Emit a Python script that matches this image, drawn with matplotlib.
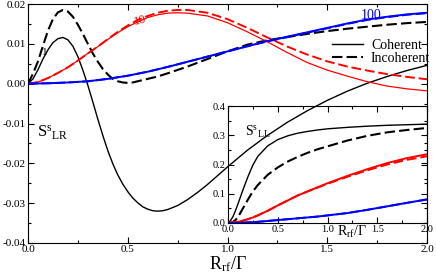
import numpy as np
import matplotlib
matplotlib.use("Agg")
import matplotlib.pyplot as plt
from matplotlib.ticker import MultipleLocator, FormatStrFormatter

plt.rcParams['font.family'] = ['Liberation Serif', 'DejaVu Serif']
plt.rcParams['mathtext.fontset'] = 'custom'
plt.rcParams['mathtext.rm'] = 'Liberation Serif'
plt.rcParams['mathtext.it'] = 'Liberation Serif:italic'
plt.rcParams['axes.unicode_minus'] = False

# ---- main panel: S^s_LR ----
x_coh1 = [0, 0.025, 0.05, 0.075, 0.1, 0.125, 0.15, 0.175, 0.2, 0.225, 0.25, 0.275,
          0.3, 0.325, 0.35, 0.375, 0.4, 0.425, 0.45, 0.475, 0.5, 0.525, 0.55, 0.575,
          0.6, 0.625, 0.65, 0.675, 0.7, 0.75, 0.8, 0.85, 0.9, 0.95, 1.0,
          1.1, 1.2, 1.3, 1.4, 1.5, 1.6, 1.7, 1.8, 1.9, 2.0]
coh_1 = [0, 0.0012, 0.0035, 0.0062, 0.0085, 0.0103, 0.0113, 0.0116, 0.0110, 0.0094,
         0.0068, 0.0034, -0.0004, -0.0046, -0.0089, -0.0130, -0.0168, -0.0201,
         -0.0229, -0.0252, -0.0271, -0.0287, -0.0299, -0.0309, -0.0315, -0.0319,
         -0.0320, -0.0319, -0.0316, -0.0306, -0.0291, -0.0273, -0.0253, -0.0231,
         -0.0209, -0.0167, -0.0130, -0.0097, -0.0068, -0.0042, -0.0019, 0.0001,
         0.0018, 0.0033, 0.0046]

x_inc1 = [0, 0.025, 0.05, 0.075, 0.1, 0.125, 0.15, 0.175, 0.2, 0.225, 0.25, 0.275,
          0.3, 0.325, 0.35, 0.375, 0.4, 0.425, 0.45, 0.475, 0.5, 0.525, 0.55, 0.6,
          0.65, 0.7, 0.8, 0.9, 1.0, 1.1, 1.2, 1.3, 1.4, 1.5, 1.6, 1.7, 1.8, 1.9, 2.0]
inc_1 = [0, 0.0025, 0.0056, 0.0095, 0.0133, 0.0162, 0.0179, 0.0185, 0.0181, 0.0168,
         0.0148, 0.0125, 0.0100, 0.0076, 0.0055, 0.0037, 0.0023, 0.0012, 0.0006,
         0.0003, 0.0002, 0.0003, 0.0006, 0.0012, 0.0018, 0.0026, 0.0043, 0.0062,
         0.0081, 0.0098, 0.0109, 0.0117, 0.0125, 0.0132, 0.0138, 0.0143, 0.0148,
         0.0152, 0.0155]

x_b = [0, 0.05, 0.1, 0.15, 0.2, 0.25, 0.3, 0.35, 0.4, 0.45, 0.5, 0.55, 0.6, 0.65,
       0.7, 0.75, 0.8, 0.9, 1.0, 1.1, 1.2, 1.3, 1.4, 1.5, 1.6, 1.7, 1.8, 1.9, 2.0]
coh_10 = [0, 0.0004, 0.0014, 0.0027, 0.0041, 0.0058, 0.0076, 0.0093, 0.0111, 0.0128,
          0.0143, 0.0155, 0.0166, 0.0173, 0.0177, 0.0178, 0.0177, 0.0170, 0.0153,
          0.0130, 0.0105, 0.0078, 0.0053, 0.0034, 0.0019, 0.0005, -0.0006, -0.0013, -0.0018]
inc_10 = [0, 0.0004, 0.0014, 0.0027, 0.0041, 0.0058, 0.0076, 0.0093, 0.0112, 0.0130,
          0.0146, 0.0160, 0.0170, 0.0178, 0.0183, 0.0185, 0.0185, 0.0178, 0.0162,
          0.0140, 0.0116, 0.0093, 0.0073, 0.0056, 0.0043, 0.0033, 0.0024, 0.0017, 0.0011]

x_c = [0, 0.1, 0.2, 0.3, 0.4, 0.5, 0.6, 0.7, 0.8, 0.9, 1.0, 1.1, 1.2, 1.3, 1.4,
       1.5, 1.6, 1.7, 1.8, 1.9, 2.0]
coh_100 = [0, 0.0001, 0.0003, 0.0006, 0.0012, 0.0020, 0.0030, 0.0042, 0.0055, 0.0068,
           0.0081, 0.0094, 0.0107, 0.0118, 0.0129, 0.0140, 0.0151, 0.0161, 0.0168,
           0.0174, 0.0178]
inc_100 = [0, 0.0001, 0.0003, 0.0006, 0.0012, 0.0020, 0.0030, 0.0042, 0.0055, 0.0068,
           0.0081, 0.0094, 0.0106, 0.0117, 0.0128, 0.0139, 0.0150, 0.0160, 0.0167,
           0.0173, 0.0177]

# ---- inset: S^s_LL ----
xi = [0, 0.025, 0.05, 0.075, 0.1, 0.15, 0.2, 0.25, 0.3, 0.4, 0.5, 0.6, 0.7, 0.8,
      0.9, 1.0, 1.2, 1.4, 1.6, 1.8, 2.0]
ll_coh_1 = [0, 0.008, 0.022, 0.042, 0.065, 0.113, 0.158, 0.198, 0.228, 0.264, 0.285,
            0.298, 0.307, 0.313, 0.318, 0.322, 0.327, 0.331, 0.334, 0.336, 0.338]
ll_inc_1 = [0, 0.001, 0.004, 0.010, 0.020, 0.050, 0.080, 0.108, 0.130, 0.165, 0.190,
            0.210, 0.226, 0.240, 0.252, 0.262, 0.282, 0.298, 0.310, 0.318, 0.325]
ll_coh_10 = [0, 0.001, 0.002, 0.003, 0.004, 0.008, 0.013, 0.019, 0.026, 0.042, 0.060,
             0.077, 0.094, 0.108, 0.122, 0.136, 0.161, 0.184, 0.205, 0.222, 0.235]
ll_inc_10 = [0, 0.001, 0.002, 0.003, 0.004, 0.008, 0.013, 0.019, 0.026, 0.042, 0.060,
             0.077, 0.094, 0.108, 0.121, 0.134, 0.158, 0.180, 0.200, 0.216, 0.228]
ll_coh_100 = [0, 0, 0, 0.0002, 0.0005, 0.001, 0.002, 0.003, 0.004, 0.007, 0.010,
              0.013, 0.016, 0.019, 0.022, 0.026, 0.034, 0.045, 0.057, 0.069, 0.081]
ll_inc_100 = [0, 0, 0, 0.0002, 0.0005, 0.001, 0.002, 0.003, 0.004, 0.007, 0.010,
              0.013, 0.016, 0.019, 0.022, 0.026, 0.034, 0.045, 0.057, 0.069, 0.080]

dash = (5, 2)

fig = plt.figure(figsize=(4.36, 2.73), dpi=100)
ax = fig.add_axes([28/436, 30/273, 399/436, 239/273])

ax.plot(x_coh1, coh_1, color='black', lw=1.0, label='Coherent')
ax.plot(x_inc1, inc_1, color='black', lw=1.5, dashes=dash, label='Incoherent')
ax.plot(x_b, coh_10, color='red', lw=0.9)
ax.plot(x_b, inc_10, color='red', lw=1.4, dashes=dash)
ax.plot(x_c, inc_100, color='blue', lw=1.4, dashes=dash)
ax.plot(x_c, coh_100, color='blue', lw=1.4)

ax.set_xlim(0, 2)
ax.set_ylim(-0.04, 0.02)
ax.xaxis.set_major_locator(MultipleLocator(0.5))
ax.xaxis.set_minor_locator(MultipleLocator(0.25))
ax.yaxis.set_major_locator(MultipleLocator(0.01))
ax.yaxis.set_minor_locator(MultipleLocator(0.005))
ax.xaxis.set_major_formatter(FormatStrFormatter('%.1f'))
ax.yaxis.set_major_formatter(FormatStrFormatter('%.2f'))
ax.tick_params(which='both', direction='in', top=True, right=True, labelsize=8, pad=1.5)
ax.tick_params(which='major', length=4.5, width=0.8)
ax.tick_params(which='minor', length=2.5, width=0.8)
ax.set_xlabel(r'$\mathrm{R_{rf}/\Gamma}$', fontsize=13, labelpad=0)

ax.text(0.023, 0.46, r'$\mathrm{S^{s}{}_{LR}}$', transform=ax.transAxes, fontsize=12,
        va='center', ha='left')
ax.text(0.085, 0.0078, '1', fontsize=8, color='black', ha='center', va='center')
ax.text(0.56, 0.0158, '10', fontsize=9, color='red', ha='center', va='center', rotation=15)
ax.text(1.72, 0.0171, '100', fontsize=10, color='blue', ha='center', va='center')

ax.legend(loc='upper left', bbox_to_anchor=(0.762, 0.855), frameon=False, fontsize=10,
          handlelength=2.2, handletextpad=0.6, borderpad=0, borderaxespad=0,
          labelspacing=0.05)

# inset
ins = fig.add_axes([228/436, 50/273, 199/436, 117/273])
ins.patch.set_alpha(0)
ins.plot(xi, ll_coh_1, color='black', lw=1.0)
ins.plot(xi, ll_inc_1, color='black', lw=1.5, dashes=dash)
ins.plot(xi, ll_coh_10, color='red', lw=1.4)
ins.plot(xi, ll_inc_10, color='red', lw=1.4, dashes=dash)
ins.plot(xi, ll_inc_100, color='blue', lw=1.4, dashes=dash)
ins.plot(xi, ll_coh_100, color='blue', lw=1.4)
ins.set_xlim(0, 2)
ins.set_ylim(0, 0.4)
ins.xaxis.set_major_locator(MultipleLocator(0.5))
ins.xaxis.set_minor_locator(MultipleLocator(0.25))
ins.yaxis.set_major_locator(MultipleLocator(0.1))
ins.yaxis.set_minor_locator(MultipleLocator(0.05))
ins.xaxis.set_major_formatter(FormatStrFormatter('%.1f'))
ins.yaxis.set_major_formatter(FormatStrFormatter('%.1f'))
ins.tick_params(which='both', direction='in', top=True, right=True, labelsize=7.5, pad=1.5)
ins.tick_params(which='major', length=4, width=0.8)
ins.tick_params(which='minor', length=2.2, width=0.8)
ins.set_xlabel(r'$\mathrm{R_{rf}/\Gamma}$', fontsize=10)
ins.xaxis.set_label_coords(0.62, -0.005)
ins.text(0.085, 0.78, r'$\mathrm{S^{s}{}_{LL}}$', transform=ins.transAxes, fontsize=10,
         va='center', ha='left')

fig.savefig('out.png', dpi=100)
